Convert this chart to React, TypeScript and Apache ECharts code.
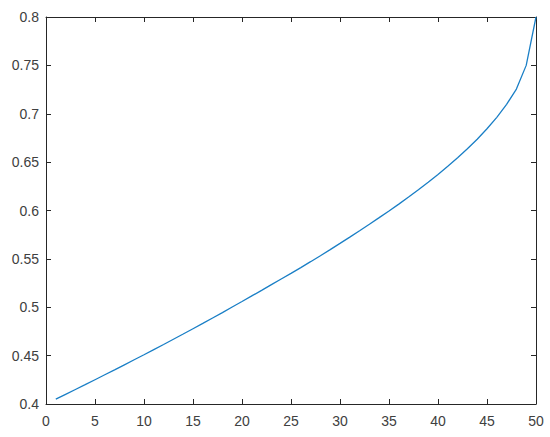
import React, { useEffect, useRef } from "react";
import * as echarts from "echarts";

const xValues: number[] = [
  1, 2, 3, 4, 5, 6, 7, 8, 9, 10, 11, 12, 13, 14, 15, 16, 17, 18, 19, 20, 21, 22, 23, 24, 25,
  26, 27, 28, 29, 30, 31, 32, 33, 34, 35, 36, 37, 38, 39, 40, 41, 42, 43, 44, 45, 46, 47, 48, 49, 50,
];
const yValues: number[] = [
  0.405, 0.41, 0.415, 0.42, 0.4251, 0.4302, 0.4353, 0.4405, 0.4457, 0.4509,
  0.4562, 0.4615, 0.4669, 0.4723, 0.4778, 0.4833, 0.4889, 0.4945, 0.5002, 0.5059,
  0.5117, 0.5175, 0.5234, 0.5292, 0.535, 0.541, 0.5471, 0.5533, 0.5596, 0.566,
  0.5725, 0.5791, 0.5858, 0.5926, 0.5995, 0.6066, 0.6139, 0.6214, 0.6292, 0.6373,
  0.6457, 0.6545, 0.6638, 0.6737, 0.6845, 0.6963, 0.7097, 0.7255, 0.75, 0.8,
];

const axisColor = "#262626";
const labelColor = "#404040";

export default function App() {
  const ref = useRef<HTMLDivElement>(null);
  useEffect(() => {
    if (!ref.current) return;
    const chart = echarts.init(ref.current, null, { renderer: "svg" });
    const commonLine = { show: true, onZero: false, lineStyle: { color: axisColor, width: 1 } };
    const commonTick = { show: true, inside: true, length: 5, lineStyle: { color: axisColor, width: 1 } };
    chart.setOption({
      animation: false,
      backgroundColor: "#ffffff",
      grid: { left: 46, right: 14, top: 17, bottom: 33, containLabel: false },
      xAxis: [
        {
          type: "value",
          position: "bottom",
          min: 0,
          max: 50,
          interval: 5,
          axisLine: commonLine,
          axisTick: commonTick,
          splitLine: { show: false },
          axisLabel: {
            color: labelColor,
            fontFamily: "Liberation Sans, Arial, sans-serif",
            fontSize: 14,
            margin: 10,
          },
        },
        {
          type: "value",
          position: "top",
          min: 0,
          max: 50,
          interval: 5,
          axisLine: commonLine,
          axisTick: commonTick,
          splitLine: { show: false },
          axisLabel: { show: false },
        },
      ],
      yAxis: [
        {
          type: "value",
          position: "left",
          min: 0.4,
          max: 0.8,
          interval: 0.05,
          axisLine: commonLine,
          axisTick: commonTick,
          splitLine: { show: false },
          axisLabel: {
            color: labelColor,
            fontFamily: "Liberation Sans, Arial, sans-serif",
            fontSize: 14,
            margin: 7,
            formatter: (v: number) => String(+v.toFixed(2)),
          },
        },
        {
          type: "value",
          position: "right",
          min: 0.4,
          max: 0.8,
          interval: 0.05,
          axisLine: commonLine,
          axisTick: commonTick,
          splitLine: { show: false },
          axisLabel: { show: false },
        },
      ],
      series: [
        {
          type: "line",
          data: xValues.map((x, i) => [x, yValues[i]]),
          showSymbol: false,
          symbol: "none",
          lineStyle: { color: "#1a7fc6", width: 1.3 },
          xAxisIndex: 0,
          yAxisIndex: 0,
        },
      ],
    });
    return () => chart.dispose();
  }, []);
  return (
    <div
      ref={ref}
      style={{ position: "fixed", left: 0, top: 0, width: 550, height: 437 }}
    />
  );
}
